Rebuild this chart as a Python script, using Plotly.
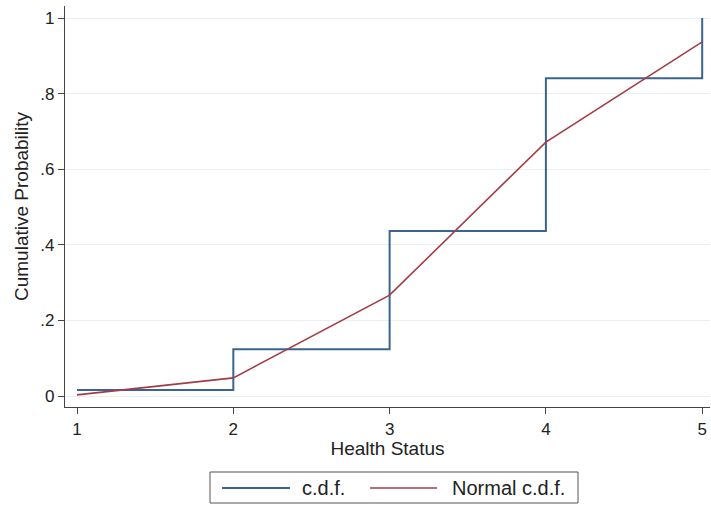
import plotly.graph_objects as go

health_status = [1, 2, 3, 4, 5]
cdf_values = [0.016, 0.124, 0.437, 0.841, 1.0]
normal_cdf_values = [0.003, 0.048, 0.267, 0.672, 0.937]
series_names = ["c.d.f.", "Normal c.d.f."]
series_colors = ["#3a6590", "#a23d47"]
y_tick_vals = [0, 0.2, 0.4, 0.6, 0.8, 1]
y_tick_text = ["0", ".2", ".4", ".6", ".8", "1"]
x_tick_vals = [1, 2, 3, 4, 5]

FAM = "Liberation Sans, Arial, sans-serif"
W, H = 711, 505
ML, MR, MT, MB = 65, 1, 6, 98
PW, PH = W - ML - MR, H - MT - MB


def px(xp):
    return (xp - ML) / PW


def py(yp):
    return (H - MB - yp) / PH


fig = go.Figure()
fig.add_trace(go.Scatter(x=health_status, y=cdf_values, mode="lines", name=series_names[0],
                         showlegend=False,
                         line=dict(color=series_colors[0], width=2, shape="hv")))
fig.add_trace(go.Scatter(x=health_status, y=normal_cdf_values, mode="lines", name=series_names[1],
                         showlegend=False,
                         line=dict(color=series_colors[1], width=1.6)))

# Legend drawn manually (Stata-style boxed legend below the plot)
fig.add_shape(type="rect", xref="paper", yref="paper",
              x0=px(210), x1=px(578), y0=py(503), y1=py(472),
              line=dict(color="#555", width=1), fillcolor="white", layer="above")
legend_items = [(222, 290, 300), (370, 437, 450)]
for (lx0, lx1, tx), name, col, wdt in zip(legend_items, series_names, series_colors, [2, 1.6]):
    fig.add_shape(type="line", xref="paper", yref="paper",
                  x0=px(lx0), x1=px(lx1), y0=py(488), y1=py(488),
                  line=dict(color=col, width=wdt), layer="above")
    fig.add_annotation(text=name, xref="paper", yref="paper", x=px(tx), y=py(488),
                       xanchor="left", yanchor="middle", showarrow=False,
                       font=dict(family=FAM, size=20, color="#222"))

fig.update_layout(
    width=W, height=H,
    margin=dict(l=ML, r=MR, t=MT, b=MB, autoexpand=False),
    paper_bgcolor="white", plot_bgcolor="white",
    font=dict(family=FAM, size=16, color="#222"),
    showlegend=False,
    xaxis=dict(range=[0.923, 5.05], tickvals=x_tick_vals, showgrid=False,
               showline=True, linecolor="#444", linewidth=1.2, ticks="outside",
               ticklen=6, tickcolor="#444", zeroline=False,
               title=dict(text="Health Status", standoff=2, font=dict(family=FAM, size=19, color="#222")),
               tickfont=dict(family=FAM, size=17, color="#222")),
    yaxis=dict(range=[-0.029, 1.032], tickvals=y_tick_vals, ticktext=y_tick_text,
               showgrid=True, gridcolor="#e9f0f3", gridwidth=1,
               showline=True, linecolor="#444", linewidth=1.2, ticks="outside",
               ticklen=6, tickcolor="#444", zeroline=False,
               title=dict(text="Cumulative Probability", standoff=6, font=dict(family=FAM, size=19, color="#222")),
               tickfont=dict(family=FAM, size=17, color="#222")),
)

fig.write_html("out.html")
